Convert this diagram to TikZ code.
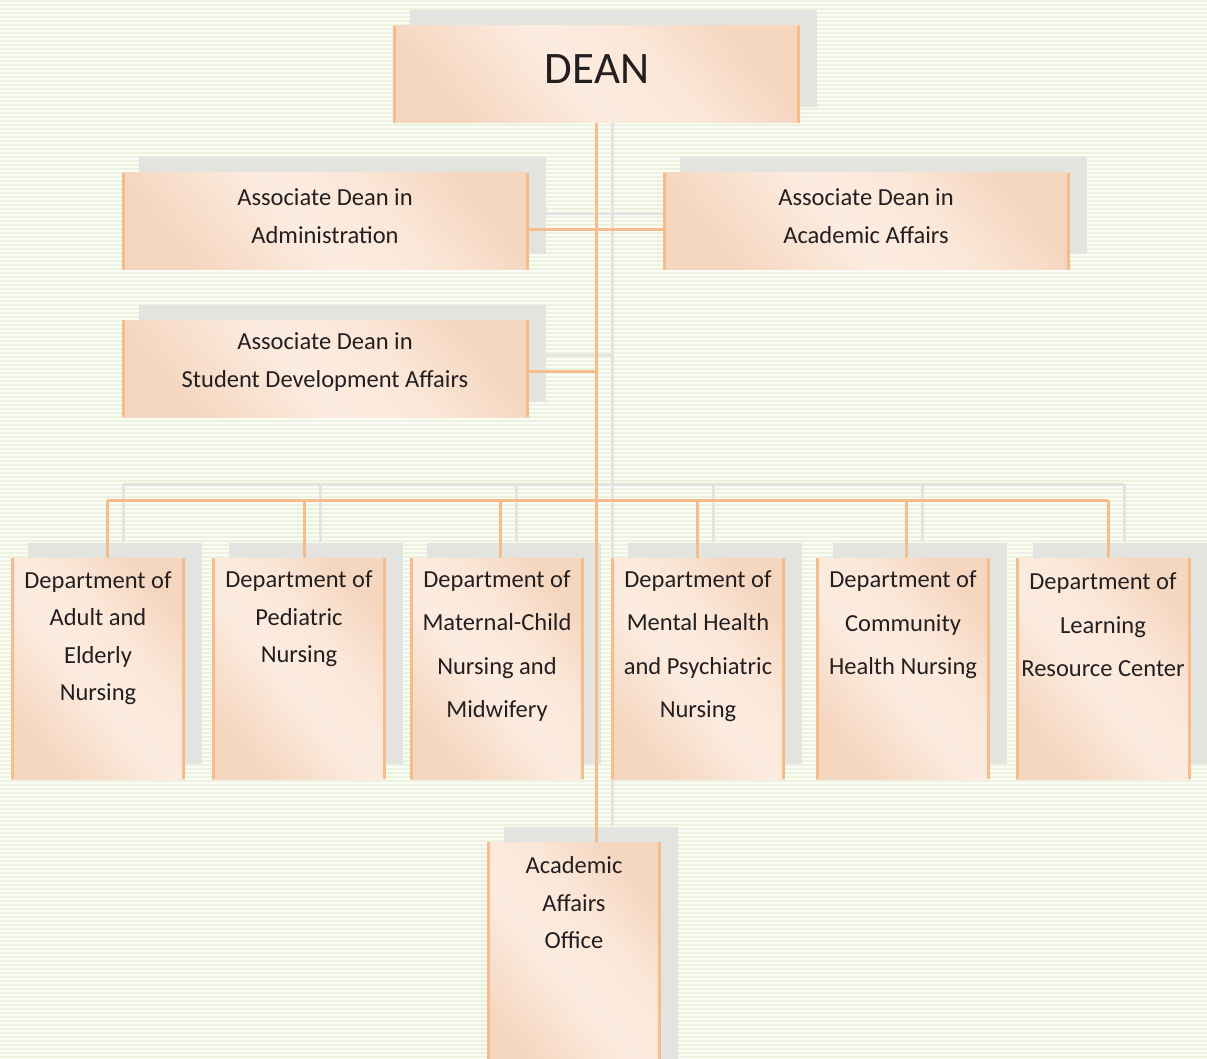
\documentclass[tikz,border=0pt]{standalone}
\usepackage{fontspec}
\setmainfont{Carlito}
\usetikzlibrary{shadows}
\definecolor{bgbase}{RGB}{250,252,245}
\definecolor{bgline}{RGB}{235,242,222}
\definecolor{orline}{RGB}{247,188,140}
\definecolor{shgray}{RGB}{227,228,224}
\definecolor{pdark}{RGB}{245,214,191}
\definecolor{pmid}{RGB}{252,236,224}
\definecolor{plight}{RGB}{251,231,216}
\definecolor{txt}{RGB}{35,31,32}
\pgfdeclarehorizontalshading{peachsh}{100bp}{color(0bp)=(pdark); color(25bp)=(pdark); color(46bp)=(pmid); color(60bp)=(plight); color(75bp)=(pdark); color(100bp)=(pdark)}
\tikzset{
  stripe/.style={draw=bgline, line width=2pt},
  box/.style={rectangle, inner sep=0pt, draw=none,
    shading=peachsh, shading angle=40,
    general shadow={fill=shgray, shadow xshift=16.5pt, shadow yshift=15.5pt}},
  edge/.style={draw=orline, line width=3pt},
  conn/.style={draw=orline, line width=3pt},
  gconn/.style={draw=shgray, line width=3pt},
  lbl/.style={align=center, text=txt, font=\fontsize{24.5}{37.5}\selectfont, inner sep=0pt},
  lblw/.style={align=center, text=txt, font=\fontsize{24.5}{43.5}\selectfont, inner sep=0pt},
}
\newcommand\orgbox[5]{%
  \node[box, minimum width={(#4-#2)*1pt}, minimum height={(#5-#3)*1pt}] (#1) at ({(#2+#4)/2},{(#3+#5)/2}) {};
  \draw[edge] ([xshift=1.5pt]#1.north west) -- ([xshift=1.5pt]#1.south west);
  \draw[edge] ([xshift=-1.5pt]#1.north east) -- ([xshift=-1.5pt]#1.south east);
}
\begin{document}
\begin{tikzpicture}[x=1pt,y=-1pt]
\useasboundingbox (0,0) rectangle (1207,1059);
\clip (0,0) rectangle (1207,1059);
\fill[bgbase] (0,0) rectangle (1207,1059);
\foreach \yy in {1,5,...,1059} \draw[stripe] (0,\yy) -- (1207,\yy);

% drop coordinates
\coordinate (t1) at (107,500);
\coordinate (t2) at (304,500);
\coordinate (t3) at (500,500);
\coordinate (t4) at (697,500);
\coordinate (t5) at (906,500);
\coordinate (t6) at (1108,500);

% shadow connectors
\begin{scope}[transform canvas={xshift=16pt,yshift=16pt}]
  \draw[gconn] (596.5,123) -- (596.5,842);
  \draw[gconn] (529,230) -- (663,230);
  \draw[gconn] (529,223) -- (529,230);
  \draw[gconn] (663,223) -- (663,230);
  \draw[gconn] (529,371) -- (596.5,371);
  \draw[gconn] (t1) -- (t6);
  \foreach \i in {1,...,6} \draw[gconn] (t\i) -- ++(0,58);
\end{scope}

\orgbox{dean}{393}{26}{800}{123}
\orgbox{adm}{122}{173}{529}{270}
\orgbox{acad}{663}{173}{1070}{270}
\orgbox{stu}{122}{320}{529}{417}
\orgbox{d1}{11}{558}{185}{779}
\orgbox{d2}{212}{558}{386}{779}
\orgbox{d3}{410}{558}{584}{779}
\orgbox{d4}{611}{558}{785}{779}
\orgbox{d5}{816}{558}{990}{779}
\orgbox{d6}{1016}{558}{1191}{779}
\orgbox{off}{487}{842}{661}{1080}

% orange connectors
\draw[conn] (dean.south) -- (dean.south |- off.north);
\draw[conn] ([yshift=-8.5pt]adm.east) -- ([yshift=-8.5pt]acad.west);
\draw[conn] ([yshift=-2.5pt]stu.east) -- ([yshift=-2.5pt]stu.east -| dean.south);
\draw[conn] (t1) -- (t6);
\draw[conn] (t1) -- (t1 |- d1.north);
\draw[conn] (t2) -- (t2 |- d2.north);
\draw[conn] (t3) -- (t3 |- d3.north);
\draw[conn] (t4) -- (t4 |- d4.north);
\draw[conn] (t5) -- (t5 |- d5.north);
\draw[conn] (t6) -- (t6 |- d6.north);

% labels
\node[text=txt, font=\fontsize{45}{50}\selectfont, inner sep=0pt] (ldean) at (597,69) {DEAN};
\node[lbl] (ladm) at (325,216) {Associate Dean in\\Administration};
\node[lbl] (lacad) at (866,216) {Associate Dean in\\Academic Affairs};
\node[lbl] (lstu) at (325,362) {Associate Dean in\\Student Development Affairs};
\node[lbl] (ld1) at (98,638) {Department of\\Adult and\\Elderly\\Nursing};
\node[lbl] (ld2) at (299,619) {Department of\\Pediatric\\Nursing};
\node[lblw] (ld3) at (497,646) {Department of\\Maternal-Child\\Nursing and\\Midwifery};
\node[lblw] (ld4) at (698,646) {Department of\\Mental Health\\and Psychiatric\\Nursing};
\node[lblw] (ld5) at (903,625) {Department of\\Community\\Health Nursing};
\node[lblw] (ld6) at (1103,625) {Department of\\Learning\\Resource Center};
\node[lbl] (loff) at (574,903) {Academic\\Affairs\\Office};
\end{tikzpicture}
\end{document}
